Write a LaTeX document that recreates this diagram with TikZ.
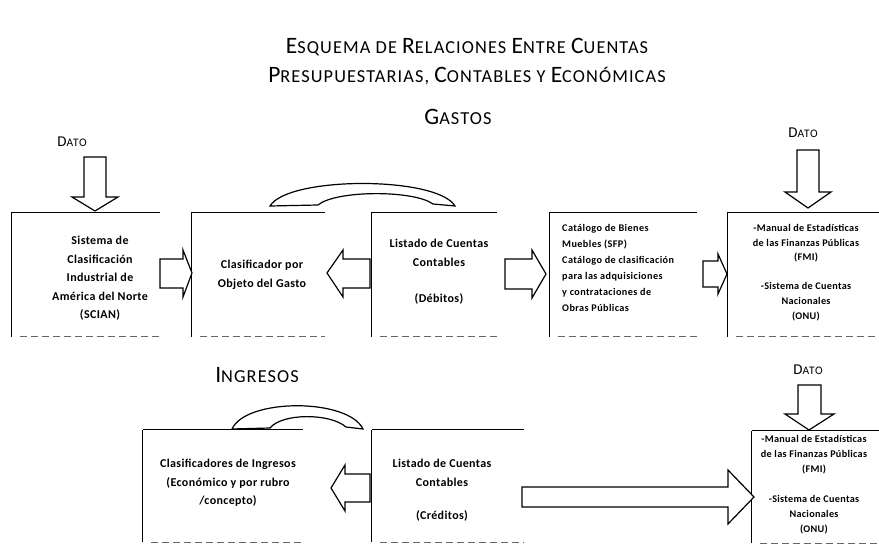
\documentclass[tikz,border=0pt]{standalone}
\usepackage{fontspec}
\setmainfont{Carlito}
\newcommand\TBig[1]{{\fontsize{23.5}{23.5}\selectfont #1}}
\newcommand\TSm[1]{{\fontsize{18.3}{18.3}\selectfont #1}}
\newcommand\DBig[1]{{\fontsize{15}{15}\selectfont #1}}
\newcommand\DSm[1]{{\fontsize{11.5}{11.5}\selectfont #1}}
\begin{document}
\begin{tikzpicture}[x=1pt,y=-1pt,
  title/.style={inner sep=0pt, font=\fontsize{18.3}{18.3}\selectfont\addfontfeature{LetterSpace=6}},
  datotxt/.style={inner sep=0pt, font=\addfontfeature{LetterSpace=6}},
  boxtxt/.style={font=\bfseries\fontsize{12}{18.5}\selectfont\addfontfeature{LetterSpace=3}, align=center, inner sep=0pt, anchor=north},
  smalltxt/.style={font=\bfseries\fontsize{10.2}{15.5}\selectfont\addfontfeature{LetterSpace=4}, inner sep=0pt, anchor=north},
  frame/.style={rectangle, inner sep=0pt},
  leftedge/.style={line width=1.3pt},
  topedge/.style={line width=1pt},
  botedge/.style={line width=0.6pt, dash pattern=on 7pt off 4pt, black!60},
  blk/.style={line width=1.2pt, fill=white, line join=miter},
]
\useasboundingbox (0,0) rectangle (879,553);

% ---------- titles ----------
\node[title] (t1) at (467,47) {\TBig{E}\TSm{SQUEMA DE }\TBig{R}\TSm{ELACIONES }\TBig{E}\TSm{NTRE }\TBig{C}\TSm{UENTAS}};
\node[title] (t2) at (467,76) {\TBig{P}\TSm{RESUPUESTARIAS, }\TBig{C}\TSm{ONTABLES Y }\TBig{E}\TSm{CONÓMICAS}};
\node[title] (gastos) at (458,117) {\TBig{G}\TSm{ASTOS}};
\node[title] (ingresos) at (257,375) {\TBig{I}\TSm{NGRESOS}};

% ---------- boxes (gastos) ----------
\node[frame, minimum width=148pt, minimum height=124pt] (b1) at (86,274.5) {};
\node[frame, minimum width=133pt, minimum height=124pt] (b2) at (258.5,274.5) {};
\node[frame, minimum width=125pt, minimum height=124pt] (b3) at (434.5,274.5) {};
\node[frame, minimum width=147pt, minimum height=124pt] (b4) at (623.5,274.5) {};
\node[frame, minimum width=151pt, minimum height=124pt] (b5) at (803.5,274.5) {};
% ---------- boxes (ingresos) ----------
\node[frame, minimum width=160pt, minimum height=112pt] (ba) at (223,486) {};
\node[frame, minimum width=152pt, minimum height=112pt] (bb) at (448,486) {};
\node[frame, minimum width=127pt, minimum height=112pt] (bc) at (815.5,487) {};

\foreach \b in {b1,b2,b3,b4,b5,ba,bb,bc}{
  \draw[leftedge] (\b.south west) -- (\b.north west);
  \draw[topedge] (\b.north west) -- (\b.north east);
  \draw[botedge] ([xshift=8pt]\b.south west) -- (\b.south east);
}

% ---------- box texts ----------
\node[boxtxt] (x1) at (100,236) {Sistema de\\Clasificación\\Industrial de\\América del Norte\\(SCIAN)};
\node[boxtxt] (x2) at (262,260) {Clasificador por\\Objeto del Gasto};
\node[boxtxt] (x3) at (439,239) {Listado de Cuentas\\Contables\\[18pt](Débitos)};
\node[smalltxt, anchor=north west, align=left, font=\bfseries\fontsize{10.2}{16}\selectfont\addfontfeature{LetterSpace=4}] (x4) at (562,224) {Catálogo de Bienes\\Muebles (SFP)\\Catálogo de clasificación\\para las adquisiciones\\y contrataciones de\\Obras Públicas};
\node[smalltxt, align=center, font=\bfseries\fontsize{10.2}{14.8}\selectfont\addfontfeature{LetterSpace=3}] (x5) at (806,224) {-Manual de Estadísticas\\de las Finanzas Públicas\\(FMI)\\[14pt]-Sistema de Cuentas\\Nacionales\\(ONU)};
\node[boxtxt] (xa) at (228,459) {Clasificadores de Ingresos\\(Económico y por rubro\\/concepto)};
\node[boxtxt] (xb) at (442,459) {Listado de Cuentas\\Contables\\[15pt](Créditos)};
\node[smalltxt, align=center, font=\bfseries\fontsize{10.2}{15}\selectfont\addfontfeature{LetterSpace=3}] (xc) at (814,435) {-Manual de Estadísticas\\de las Finanzas Públicas\\(FMI)\\[15pt]-Sistema de Cuentas\\Nacionales\\(ONU)};

% ---------- DATO labels and down arrows ----------
\node[datotxt] (d1) at (72,142) {\DBig{D}\DSm{ATO}};
\node[datotxt] (d2) at (803,133) {\DBig{D}\DSm{ATO}};
\node[datotxt] (d3) at (808,370) {\DBig{D}\DSm{ATO}};

\draw[blk] (84,157) -- (106,157) -- (106,197) -- (118,197) -- (95,211) -- (72,197) -- (84,197) -- cycle;
\draw[blk] (797,150) -- (819,150) -- (819,192) -- (831,192) -- (808,208) -- (785,192) -- (797,192) -- cycle;
\draw[blk] (798,385) -- (821,385) -- (821,414) -- (834,414) -- (809,430) -- (785,414) -- (798,414) -- cycle;

% ---------- block arrows between boxes (gastos) ----------
\draw[blk] (160,259) -- (183,259) -- (183,250) -- (192,273) -- (183,297) -- (183,288) -- (160,288) -- cycle;
\draw[blk] (370,259) -- (343,259) -- (343,250) -- (327,273) -- (343,297) -- (343,288) -- (370,288) -- cycle;
\draw[blk] (505,259) -- (532,259) -- (532,250) -- (546,274) -- (532,298) -- (532,289) -- (505,289) -- cycle;
\draw[blk] (703,261) -- (718,261) -- (718,254) -- (727,274) -- (718,294) -- (718,287) -- (703,287) -- cycle;

% ---------- block arrows (ingresos) ----------
\draw[blk] (370,474) -- (345,474) -- (345,465) -- (331,488) -- (345,511) -- (345,502) -- (370,502) -- cycle;
\draw[blk] (522,487) -- (728,487) -- (728,470) -- (754,497) -- (728,524) -- (728,507) -- (522,507) -- cycle;

% ---------- curved arrows ----------
\draw[blk] (270,206) .. controls (288,176) and (437,176) .. (455,206) -- (433,204) .. controls (414,190) and (336,190) .. (318,205) -- cycle;
\draw[blk] (232,429) .. controls (246,398) and (348,398) .. (363,429) -- (346,427) .. controls (330,413) and (282,413) .. (270,428) -- cycle;

\end{tikzpicture}
\end{document}
